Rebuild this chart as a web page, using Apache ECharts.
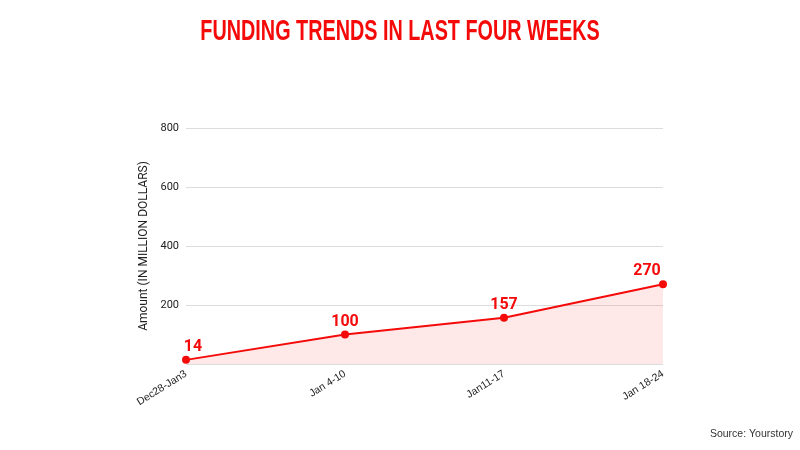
<!DOCTYPE html>
<html><head><meta charset="utf-8">
<script src="https://cdn.jsdelivr.net/npm/echarts@6/dist/echarts.min.js"></script>
<style>html,body{margin:0;padding:0;background:#fff}#c{width:800px;height:450px}</style>
</head><body><div id="c"></div>
<script>
const categories = ['Dec28-Jan3', 'Jan 4-10', 'Jan11-17', 'Jan 18-24'];
const amounts = [14, 100, 157, 270];
const yTicks = [200, 400, 600, 800];

const chart = echarts.init(document.getElementById('c'));
const labelOffsets = [[7, 0], [0, 0], [0, 0], [-16, 0]];
chart.setOption({
  backgroundColor: '#fff',
  graphic: [{
    type: 'text', x: 400, y: 32, scaleX: 0.66,
    style: { text: 'FUNDING TRENDS IN LAST FOUR WEEKS', font: 'bold 30px "Liberation Sans"', fill: '#f50a0a',
      align: 'center', verticalAlign: 'middle' }
  }, {
    type: 'text', right: 7, top: 429,
    style: { text: 'Source: Yourstory', font: '10.5px "Liberation Sans"', fill: '#333' }
  }],
  grid: { left: 186, right: 137, top: 128, bottom: 86 },
  xAxis: {
    type: 'category', data: categories, boundaryGap: false,
    axisLine: { show: false }, axisTick: { show: false },
    axisLabel: { rotate: 32, fontSize: 10.5, color: '#222', fontFamily: 'Liberation Sans', margin: 9, interval: 0 }
  },
  yAxis: {
    type: 'value', min: 0, max: 800, interval: 200,
    name: 'Amount (IN MILLION DOLLARS)', nameLocation: 'middle', nameGap: 32,
    nameTextStyle: { fontSize: 12, color: '#222', fontFamily: 'Roboto' },
    axisLine: { show: false }, axisTick: { show: false },
    axisLabel: { fontSize: 11, color: '#222', fontFamily: 'Roboto', margin: 7,
      formatter: v => yTicks.includes(v) ? String(v) : '' },
    splitLine: { lineStyle: { color: '#dcdcdc', width: 1 } }
  },
  series: [{
    type: 'line',
    data: amounts.map((v, i) => ({ value: v, label: { offset: labelOffsets[i] } })),
    symbol: 'circle', symbolSize: 8,
    lineStyle: { color: '#f50a0a', width: 2 },
    itemStyle: { color: '#f50a0a' },
    areaStyle: { color: 'rgba(255,40,40,0.15)' },
    label: { show: true, position: 'top', distance: 1, fontSize: 16, fontWeight: 'bold', color: '#f50a0a', fontFamily: 'Roboto' }
  }]
});
</script></body></html>
